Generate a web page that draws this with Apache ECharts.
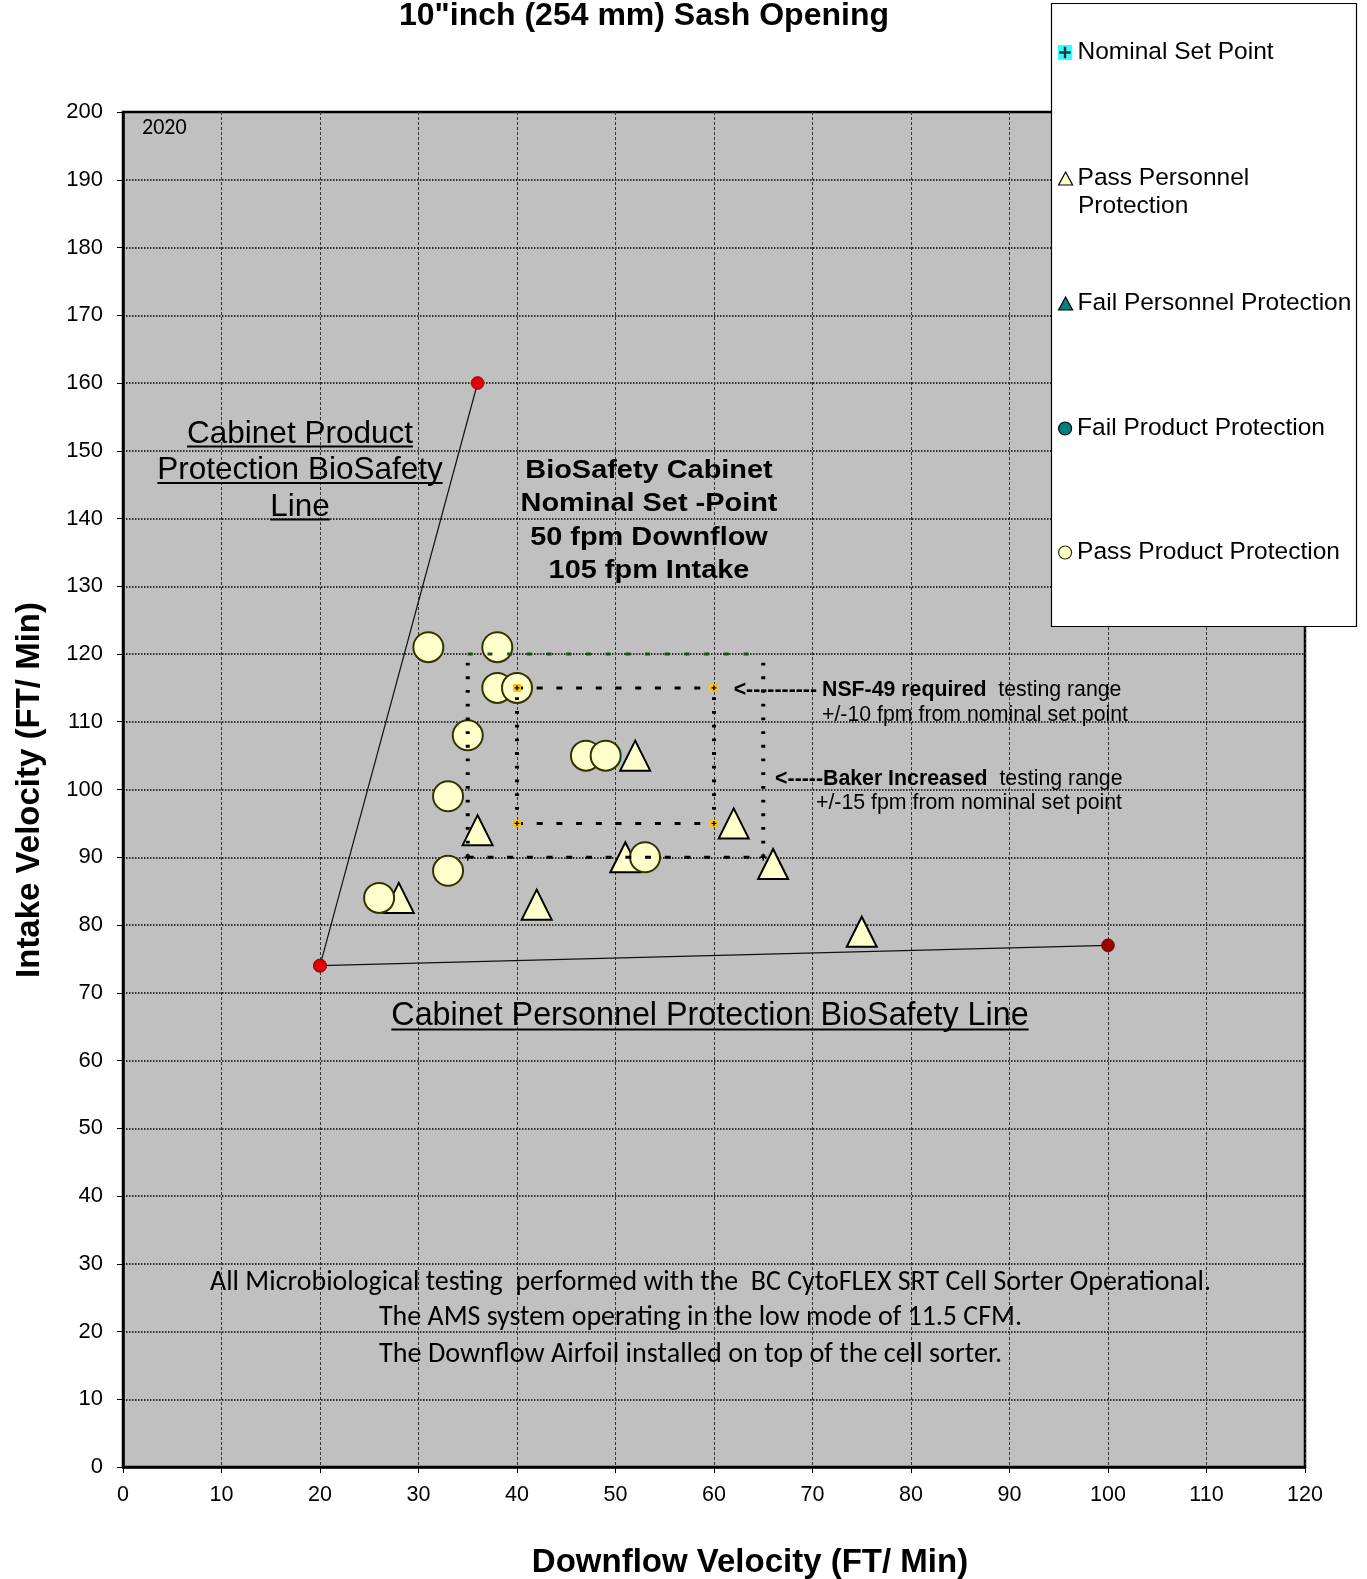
<!DOCTYPE html>
<html>
<head>
<meta charset="utf-8">
<title>10"inch (254 mm) Sash Opening</title>
<script src="https://cdn.jsdelivr.net/npm/echarts@6/dist/echarts.min.js"></script>
<style>
  html, body { margin: 0; padding: 0; background: #ffffff; }
  #chart { width: 1367px; height: 1579px; }
</style>
</head>
<body>
<div id="chart"></div>
<script>
// ---- Axis ranges (ft/min): [min, max, step] ----
const downflowAxis = [0, 120, 10];
const intakeAxis = [0, 200, 10];

// ---- Test results: [downflow, intake] ----
const passPersonnel = [[28, 84], [36, 94], [42, 83], [51, 90], [52, 105], [62, 95], [66, 89], [75, 79]];
const failPersonnel = [];
const failProduct = [];
const passProduct = [[31, 121], [38, 121], [38, 115], [40, 115], [35, 108], [47, 105], [49, 105],
                     [33, 99], [33, 88], [26, 84], [53, 90]];
const nominalSetPoint = [[50, 105]];

// ---- Biosafety boundary lines ----
const productLine = [[20, 74], [36, 160]];
const personnelLine = [[20, 74], [100, 77]];

// ---- Testing ranges around the nominal set point ----
const nsfDownflow = [40, 60];
const nsfIntake = [95, 115];
const bakerDownflow = [35, 65];
const bakerIntake = [90, 120];

// ---- Text ----
const titleText = '10"inch (254 mm) Sash Opening';
const xTitle = 'Downflow Velocity (FT/ Min)';
const yTitle = 'Intake Velocity (FT/ Min)';
const productLineLabel = ['Cabinet Product', 'Protection BioSafety', 'Line'];
const personnelLineLabel = 'Cabinet Personnel Protection BioSafety Line';
const nominalLabel = ['BioSafety Cabinet', 'Nominal Set -Point', '50 fpm Downflow', '105 fpm Intake'];
const footerLines = [
  'All Microbiological testing  performed with the  BC CytoFLEX SRT Cell Sorter Operational.',
  'The AMS system operating in the low mode of 11.5 CFM.',
  'The Downflow Airfoil installed on top of the cell sorter.'
];
const legendNames = ['Nominal Set Point', 'Pass Personnel Protection', 'Fail Personnel Protection',
                     'Fail Product Protection', 'Pass Product Protection'];

const ARIAL = '"Liberation Sans", Arial, sans-serif';
const CALIBRI = 'Carlito, "Liberation Sans Narrow", "Liberation Sans", sans-serif';

const measureCtx = document.createElement('canvas').getContext('2d');
function textWidth(text, size, weight, family) {
  measureCtx.font = `${weight || 'normal'} ${size}px ${family}`;
  return measureCtx.measureText(text).width;
}

function svgSymbol(svg) {
  return 'image://data:image/svg+xml;charset=utf-8,' + encodeURIComponent(svg);
}
const nominalSymbol = svgSymbol('<svg xmlns="http://www.w3.org/2000/svg" width="20" height="20" viewBox="0 0 10 10">' +
  '<rect width="10" height="10" fill="#00FFFF"/><path d="M5 1.2V8.8M1.2 5H8.8" stroke="#000" stroke-width="1.6"/></svg>');
const nsfCornerSymbol = svgSymbol('<svg xmlns="http://www.w3.org/2000/svg" width="16" height="16" viewBox="0 0 10 10">' +
  '<rect width="10" height="10" fill="#FFC000"/><path d="M5 2V8M2 5H8" stroke="#000" stroke-width="1.8"/></svg>');
const plusPath = 'path://M4,0H6V4H10V6H6V10H4V6H0V4H4Z';

function hEdge(xr, y) { return [[xr[0], y], [xr[1], y]]; }
function vEdge(x, yr) { return [[x, yr[0]], [x, yr[1]]]; }

const dotH = { color: '#000', width: 3, type: [6, 13.7], cap: 'butt' };
const dotV = { color: '#000', width: 4, type: [2.8, 10.9], cap: 'butt' };

function edgeSeries(data, lineStyle, symbol, symbolSize) {
  return {
    type: 'line', data: data, z: 6, silent: true,
    symbol: symbol || 'none', symbolSize: symbolSize || 0, showSymbol: !!symbol,
    itemStyle: { color: '#000' },
    lineStyle: lineStyle, animation: false
  };
}

const chart = echarts.init(document.getElementById('chart'), null, { renderer: 'canvas' });

// ---- Annotation graphics ----
const graphics = [];
function addText(text, x, y, size, weight, family, extra) {
  graphics.push(Object.assign({
    type: 'text', x: x, y: y, z: 8, silent: true,
    style: {
      text: text, fill: '#000', align: 'center', verticalAlign: 'middle',
      fontSize: size, fontWeight: weight || 'normal', fontFamily: family || ARIAL
    }
  }, extra || {}));
}
function addUnderline(text, cx, y, size, family) {
  const w = textWidth(text, size, 'normal', family || ARIAL);
  graphics.push({
    type: 'line', z: 8, silent: true,
    shape: { x1: cx - w / 2, y1: y, x2: cx + w / 2, y2: y },
    style: { stroke: '#000', lineWidth: 2 }
  });
}

// legend frame
graphics.push({
  type: 'rect', z: 10, silent: true,
  shape: { x: 1051.5, y: 3.5, width: 305, height: 623 },
  style: { fill: '#ffffff', stroke: '#000', lineWidth: 1.2 }
});
// second line of the wrapped legend entry
graphics.push({
  type: 'text', x: 1078, y: 206, z: 21, silent: true,
  style: { text: 'Protection', fill: '#000', align: 'left', verticalAlign: 'middle', fontSize: 24.5, fontFamily: ARIAL }
});

// title and axis titles
addText(titleText, 644, 16, 32, 'bold');
addText(xTitle, 750, 1563, 33, 'bold');
addText(yTitle, 30, 790, 33, 'bold', ARIAL, { rotation: Math.PI / 2 });

// year tag
graphics.push({
  type: 'text', x: 142, y: 128, z: 8, silent: true,
  style: { text: '2020', fill: '#000', align: 'left', verticalAlign: 'middle', fontSize: 22, fontFamily: CALIBRI }
});

// product protection line label (underlined)
const plY = [434, 470.5, 507];
productLineLabel.forEach((t, i) => {
  addText(t, 300, plY[i], 31.5, 'normal');
  addUnderline(t, 300, plY[i] + 12.5, 31.5);
});

// personnel protection line label (underlined)
addText(personnelLineLabel, 710, 1016.5, 32.3, 'normal');
addUnderline(personnelLineLabel, 710, 1029.5, 32.3);

// nominal set-point block (bold, slightly widened)
const nomScale = 257 / textWidth(nominalLabel[1], 25.5, 'bold', ARIAL);
const nomY = [471, 504, 537.5, 571];
nominalLabel.forEach((t, i) => addText(t, 649, nomY[i], 25.5, 'bold', ARIAL, { scaleX: nomScale }));

// testing range callouts
function addLeft(text, x, y, size, weight, rich) {
  graphics.push({
    type: 'text', x: x, y: y, z: 8, silent: true,
    style: { text: text, fill: '#000', align: 'left', verticalAlign: 'middle',
             fontSize: size, fontWeight: weight || 'normal', fontFamily: ARIAL, rich: rich }
  });
}
function addRight(text, x, y, size, weight) {
  graphics.push({
    type: 'text', x: x, y: y, z: 8, silent: true,
    style: { text: text, fill: '#000', align: 'right', verticalAlign: 'middle',
             fontSize: size, fontWeight: weight || 'normal', fontFamily: ARIAL }
  });
}
const CALLOUT = 21.3;
const boldRich = { b: { fontWeight: 'bold', fontSize: CALLOUT, fontFamily: ARIAL, fill: '#000' } };
addRight('<----------', 817, 690, CALLOUT, 'bold');
addLeft('{b|NSF-49 required}  testing range', 822, 690, CALLOUT, 'normal', boldRich);
addLeft('+/-10 fpm from nominal set point', 822, 715, CALLOUT);
addRight('<-----', 823, 779, CALLOUT, 'bold');
addLeft('{b|Baker Increased}  testing range', 823, 779, CALLOUT, 'normal', boldRich);
addLeft('+/-15 fpm from nominal set point', 816, 803.5, CALLOUT);

// footer notes
const FOOT = 28.5;
const footY = [1283, 1317.5, 1354.5];
const footFits = [[710.5, 1001, 'center'], [379, 643, 'left'], [379, 623, 'left']];
footerLines.forEach((t, i) => {
  const sx = footFits[i][1] / textWidth(t, FOOT, 'normal', CALIBRI);
  graphics.push({
    type: 'text', x: footFits[i][0], y: footY[i], z: 8, silent: true, scaleX: sx,
    style: { text: t, fill: '#000', align: footFits[i][2], verticalAlign: 'middle', fontSize: FOOT, fontFamily: CALIBRI }
  });
});

// ---- Legend: one block per entry ----
const legendRows = [
  { name: legendNames[0], y: 52.5, icon: nominalSymbol, size: 15 },
  { name: legendNames[1], y: 178.5, label: 'Pass Personnel' },
  { name: legendNames[2], y: 303.5 },
  { name: legendNames[3], y: 428.5 },
  { name: legendNames[4], y: 552.5 }
];
const legends = legendRows.map(r => {
  const l = {
    data: [r.icon ? { name: r.name, icon: r.icon } : r.name],
    orient: 'vertical', left: r.size ? 1057.5 : 1058, top: r.y - 13, padding: 0, z: 20,
    itemWidth: r.size || 14, itemHeight: r.size || 13, selectedMode: false,
    formatter: r.label ? (() => r.label) : '{name}',
    itemStyle: { borderWidth: 1.2 },
    textStyle: { fontSize: 24.5, fontFamily: ARIAL, color: '#000', lineHeight: 26 }
  };
  if (r.size) { l.top = r.y - 13; }
  return l;
});

const option = {
  animation: false,
  backgroundColor: '#ffffff',
  grid: {
    left: 123, top: 112, width: 1182, height: 1355,
    show: true, backgroundColor: '#C0C0C0', borderColor: '#000', borderWidth: 2.5
  },
  xAxis: {
    type: 'value', min: downflowAxis[0], max: downflowAxis[1], interval: downflowAxis[2],
    axisLine: { show: true, onZero: false, lineStyle: { color: '#000', width: 2.5 } },
    axisTick: { show: true, length: 6, lineStyle: { color: '#000', width: 1 } },
    axisLabel: { fontSize: 21.5, color: '#000', fontFamily: ARIAL, margin: 17 },
    splitLine: { show: true, lineStyle: { color: '#333', width: 1, type: [3, 2] } }
  },
  yAxis: {
    type: 'value', min: intakeAxis[0], max: intakeAxis[1], interval: intakeAxis[2],
    axisLine: { show: true, onZero: false, lineStyle: { color: '#000', width: 2.5 } },
    axisTick: { show: true, length: 6, lineStyle: { color: '#000', width: 1 } },
    axisLabel: { fontSize: 22, color: '#000', fontFamily: ARIAL, margin: 20 },
    splitLine: { show: true, lineStyle: { color: '#000', width: 1.5, type: [1.5, 1.5] } }
  },
  legend: legends,
  graphic: { elements: graphics },
  series: [
    {
      name: legendNames[0], type: 'scatter', data: nominalSetPoint, z: 2,
      symbol: nominalSymbol, symbolSize: 14
    },
    {
      name: legendNames[1], type: 'scatter', data: passPersonnel, z: 4,
      symbol: 'triangle', symbolSize: 30,
      itemStyle: { color: '#FFFFCC', borderColor: '#000', borderWidth: 2, opacity: 1 }
    },
    {
      name: legendNames[2], type: 'scatter', data: failPersonnel, z: 4,
      symbol: 'triangle', symbolSize: 30,
      itemStyle: { color: '#008080', borderColor: '#000', borderWidth: 2, opacity: 1 }
    },
    {
      name: legendNames[3], type: 'scatter', data: failProduct, z: 5,
      symbol: 'circle', symbolSize: 30,
      itemStyle: { color: '#008080', borderColor: '#000', borderWidth: 2, opacity: 1 }
    },
    {
      name: legendNames[4], type: 'scatter', data: passProduct, z: 5,
      symbol: 'circle', symbolSize: 30,
      itemStyle: { color: '#FFFFCC', borderColor: '#333300', borderWidth: 2, opacity: 1 }
    },
    // boundary lines
    {
      type: 'line', data: productLine, z: 3, silent: true,
      symbol: 'circle', symbolSize: 13, showSymbol: true,
      itemStyle: { color: '#E00000', borderColor: '#700000', borderWidth: 0.6 },
      lineStyle: { color: '#111', width: 1.2 }
    },
    {
      type: 'line', data: personnelLine.map((p, i) => i === personnelLine.length - 1
        ? { value: p, itemStyle: { color: '#990000' } } : p),
      z: 3, silent: true,
      symbol: 'circle', symbolSize: 13, showSymbol: true,
      itemStyle: { color: '#E00000', borderColor: '#600000', borderWidth: 0.6 },
      lineStyle: { color: '#111', width: 1.2 }
    },
    // Baker increased range (+/-15)
    edgeSeries(hEdge(bakerDownflow, bakerIntake[1]), { color: '#1E4D1E', width: 3, type: [5, 14.7], cap: 'butt' }),
    edgeSeries(hEdge(bakerDownflow, bakerIntake[0]), dotH, plusPath, 7),
    edgeSeries(vEdge(bakerDownflow[0], bakerIntake), dotV),
    edgeSeries(vEdge(bakerDownflow[1], bakerIntake), dotV),
    // NSF-49 required range (+/-10)
    edgeSeries(vEdge(nsfDownflow[0], nsfIntake), dotV),
    edgeSeries(vEdge(nsfDownflow[1], nsfIntake), dotV),
    edgeSeries(hEdge(nsfDownflow, nsfIntake[1]), dotH, nsfCornerSymbol, 8),
    edgeSeries(hEdge(nsfDownflow, nsfIntake[0]), dotH, nsfCornerSymbol, 8)
  ]
};

chart.setOption(option);
</script>
</body>
</html>
